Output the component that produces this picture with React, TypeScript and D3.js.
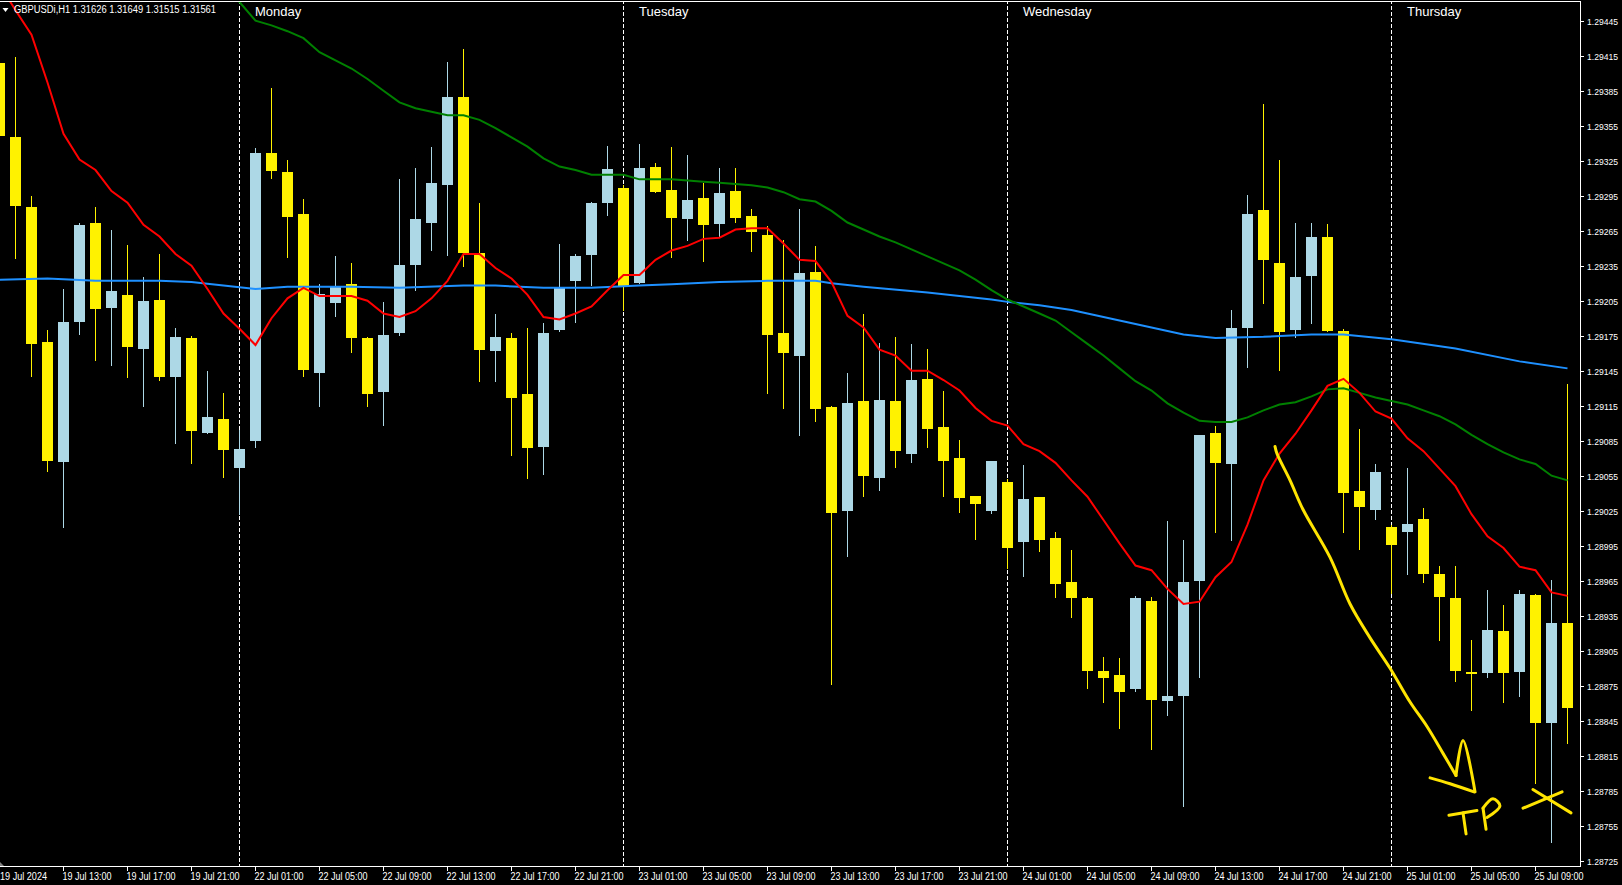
import * as d3 from "d3"

// GBPUSDi H1, 19 Jul 09:00 .. 25 Jul 11:00
const opens = [
  1.29409, 1.29345, 1.29285, 1.2917, 1.29067, 1.29187, 1.29272, 1.29199, 1.2921, 1.29164,
  1.29206, 1.2914, 1.29173, 1.29092, 1.29104, 1.29062, 1.29085, 1.29332, 1.29315, 1.29279,
  1.29143, 1.29203, 1.29219, 1.29173, 1.29127, 1.29177, 1.29236, 1.29272, 1.29304, 1.2938,
  1.29246, 1.29162, 1.29173, 1.29125, 1.2908, 1.2918, 1.29222, 1.29244, 1.29289, 1.29302,
  1.2922, 1.2932, 1.293, 1.29275, 1.29293, 1.29271, 1.29299, 1.29278, 1.29261, 1.29177,
  1.29158, 1.2923, 1.29114, 1.29025, 1.29119, 1.29053, 1.29119, 1.29074, 1.29138, 1.29097,
  1.2907, 1.29038, 1.29025, 1.2905, 1.28998, 1.29037, 1.29002, 1.28964, 1.2895, 1.28888,
  1.28884, 1.28872, 1.28948, 1.28862, 1.28866, 1.28965, 1.29092, 1.29065, 1.29182, 1.29283,
  1.29237, 1.2918, 1.29226, 1.2926, 1.29179, 1.29042, 1.29026, 1.29011, 1.29007, 1.29018,
  1.28971, 1.2895, 1.28887, 1.28886, 1.28922, 1.28887, 1.28953, 1.28843, 1.28929,
]
const highs = [
  1.29412, 1.29414, 1.29295, 1.2918, 1.29215, 1.29272, 1.29285, 1.29266, 1.29253, 1.29225,
  1.29245, 1.29182, 1.29175, 1.29145, 1.29126, 1.29094, 1.29336, 1.29387, 1.29326, 1.29292,
  1.29219, 1.29243, 1.29237, 1.29174, 1.29204, 1.29309, 1.29319, 1.29337, 1.2941, 1.29421,
  1.29289, 1.29194, 1.29177, 1.29182, 1.29186, 1.29254, 1.29245, 1.2929, 1.29338, 1.29304,
  1.29339, 1.29323, 1.29337, 1.2933, 1.29306, 1.29319, 1.29319, 1.29284, 1.29269, 1.29257,
  1.29284, 1.29252, 1.29115, 1.29143, 1.29194, 1.29169, 1.29174, 1.29168, 1.29164, 1.29128,
  1.29086, 1.29038, 1.29068, 1.29052, 1.29064, 1.29037, 1.29007, 1.28991, 1.28951, 1.289,
  1.28899, 1.28952, 1.28951, 1.29016, 1.29, 1.2909, 1.29098, 1.29197, 1.29296, 1.29374,
  1.29326, 1.29272, 1.29272, 1.29271, 1.29181, 1.29095, 1.29065, 1.29013, 1.29062, 1.29027,
  1.28978, 1.28978, 1.28914, 1.28957, 1.28944, 1.28957, 1.28954, 1.28966, 1.29134,
]
const lows = [
  1.29344, 1.29241, 1.2914, 1.29058, 1.2901, 1.29176, 1.29153, 1.29149, 1.29139, 1.29114,
  1.29136, 1.29082, 1.29065, 1.29091, 1.29053, 1.29021, 1.29079, 1.29309, 1.29242, 1.2914,
  1.29114, 1.29191, 1.2916, 1.29114, 1.29098, 1.29175, 1.29213, 1.29248, 1.29243, 1.29234,
  1.29135, 1.29135, 1.29072, 1.29052, 1.29056, 1.29178, 1.29186, 1.29218, 1.29278, 1.29196,
  1.29219, 1.29297, 1.29242, 1.29256, 1.29238, 1.2926, 1.29272, 1.29247, 1.29125, 1.29112,
  1.29089, 1.29101, 1.28876, 1.28985, 1.29037, 1.29042, 1.29062, 1.29066, 1.29079, 1.29037,
  1.29023, 1.29, 1.29022, 1.28975, 1.28968, 1.2899, 1.2895, 1.28933, 1.28872, 1.2886,
  1.28838, 1.2887, 1.2882, 1.28849, 1.28771, 1.28882, 1.29006, 1.28999, 1.29147, 1.29202,
  1.29145, 1.29173, 1.29185, 1.29178, 1.29006, 1.28991, 1.29017, 1.28954, 1.2897, 1.28963,
  1.28913, 1.28878, 1.28853, 1.28882, 1.2886, 1.28865, 1.28791, 1.2874, 1.28825,
]
const closes = [
  1.29346, 1.29286, 1.29168, 1.29068, 1.29187, 1.2927, 1.29198, 1.29213, 1.29165, 1.29205,
  1.2914, 1.29174, 1.29093, 1.29105, 1.29077, 1.29078, 1.29332, 1.29316, 1.29277, 1.29146,
  1.29211, 1.29218, 1.29173, 1.29125, 1.29176, 1.29236, 1.29275, 1.29306, 1.2938, 1.29246,
  1.29163, 1.29174, 1.29122, 1.29079, 1.29177, 1.29217, 1.29243, 1.29289, 1.29318, 1.29218,
  1.29319, 1.29298, 1.29276, 1.29291, 1.2927, 1.29297, 1.29276, 1.29264, 1.29176, 1.2916,
  1.29229, 1.29112, 1.29023, 1.29117, 1.29055, 1.2912, 1.29076, 1.29137, 1.29095, 1.29068,
  1.29036, 1.29031, 1.29068, 1.28993, 1.29035, 1.29, 1.28962, 1.2895, 1.28888, 1.28882,
  1.2887, 1.2895, 1.28863, 1.28866, 1.28964, 1.2909, 1.29066, 1.29182, 1.29279, 1.2924,
  1.29178, 1.29225, 1.2926, 1.29179, 1.2904, 1.29028, 1.29058, 1.28996, 1.29014, 1.28971,
  1.28951, 1.28888, 1.28886, 1.28923, 1.28886, 1.28954, 1.28843, 1.28929, 1.28856,
]

// moving averages
const maFast = [
  1.29476, 1.29454, 1.29433, 1.29392, 1.29348, 1.29326, 1.29317, 1.29299, 1.29289, 1.2927,
  1.2926, 1.29245, 1.29235, 1.29215, 1.29194, 1.29181, 1.29167, 1.2919, 1.29207, 1.29216,
  1.29209, 1.29209, 1.29209, 1.29205, 1.29194, 1.29191, 1.29196, 1.29207, 1.29222, 1.29245,
  1.29245, 1.29233, 1.29224, 1.2921, 1.29191, 1.29189, 1.29194, 1.292, 1.29214, 1.29227,
  1.29227, 1.2924, 1.29248, 1.29252, 1.29258, 1.29259, 1.29266, 1.29267, 1.29267, 1.29254,
  1.2924, 1.29239, 1.29221, 1.29192, 1.29182, 1.29163, 1.29158, 1.29145, 1.29145, 1.29137,
  1.29128, 1.29113, 1.29102, 1.29098, 1.29082, 1.29076, 1.29066, 1.29051, 1.29037, 1.29017,
  1.28997, 1.28978, 1.28974, 1.28958, 1.28945, 1.28947, 1.28968, 1.28981, 1.29013, 1.29051,
  1.29074, 1.29091, 1.29111, 1.29132, 1.29138, 1.29126, 1.2911, 1.29104, 1.29087, 1.29076,
  1.29061, 1.29046, 1.29022, 1.29003, 1.28993, 1.28977, 1.28974, 1.28955, 1.28952,
]
const maMidStart = 14
const maMid = [
  1.29476, 1.29461, 1.29445, 1.29441, 1.29436, 1.2943, 1.29418, 1.29411, 1.29404, 1.29395,
  1.29385, 1.29375, 1.2937, 1.29367, 1.29364, 1.29364, 1.2936, 1.29353, 1.29345, 1.29337,
  1.29327, 1.2932, 1.29317, 1.29313, 1.29313, 1.29313, 1.29309, 1.29309, 1.29309, 1.29308,
  1.29307, 1.29306, 1.29305, 1.29304, 1.29302, 1.29298, 1.29292, 1.2929, 1.29282, 1.29272,
  1.29266, 1.2926, 1.29255, 1.29249, 1.29243, 1.29237, 1.29231, 1.29223, 1.29214, 1.29206,
  1.292, 1.29194, 1.29188, 1.29178, 1.29168, 1.29158, 1.29147, 1.29136, 1.29128, 1.29117,
  1.29109, 1.29102, 1.29101, 1.29101, 1.29105, 1.29111, 1.29116, 1.29118, 1.29123, 1.29129,
  1.2913, 1.29126, 1.29122, 1.29119, 1.29116, 1.29111, 1.29106, 1.29099, 1.2909, 1.29082,
  1.29075, 1.29069, 1.29065, 1.29055, 1.29051,
]
const maSlow: [number, number][] = [
  [0, 1.29223], [3, 1.29224], [6, 1.29222], [10, 1.29222], [12, 1.29221], [14, 1.29218],
  [16, 1.29215], [18, 1.29217], [22, 1.29217], [25, 1.29216], [29, 1.29218], [31, 1.29218],
  [34, 1.29216], [37, 1.29216], [40, 1.29218], [42, 1.29219], [45, 1.29221], [48, 1.29222],
  [51, 1.29222], [52, 1.2922], [54, 1.29217], [58, 1.29212], [62, 1.29206], [63, 1.29204],
  [65, 1.29201], [67, 1.29197], [68, 1.29194], [70, 1.29188], [72, 1.29182], [74, 1.29176],
  [76, 1.29173], [79, 1.29174], [82, 1.29176], [84, 1.29176], [87, 1.29172], [91, 1.29164],
  [95, 1.29153], [98, 1.29147],
]

const priceTicks = [
  "1.29445", "1.29415", "1.29385", "1.29355", "1.29325", "1.29295", "1.29265", "1.29235",
  "1.29205", "1.29175", "1.29145", "1.29115", "1.29085", "1.29055", "1.29025", "1.28995",
  "1.28965", "1.28935", "1.28905", "1.28875", "1.28845", "1.28815", "1.28785", "1.28755",
  "1.28725",
]
const timeTickIndex = [4, 8, 12, 16, 20, 24, 28, 32, 36, 40, 44, 48, 52, 56, 60, 64, 68, 72, 76, 80, 84, 88, 92, 96]
const timeTickText = [
  "19 Jul 13:00", "19 Jul 17:00", "19 Jul 21:00", "22 Jul 01:00", "22 Jul 05:00", "22 Jul 09:00",
  "22 Jul 13:00", "22 Jul 17:00", "22 Jul 21:00", "23 Jul 01:00", "23 Jul 05:00", "23 Jul 09:00",
  "23 Jul 13:00", "23 Jul 17:00", "23 Jul 21:00", "24 Jul 01:00", "24 Jul 05:00", "24 Jul 09:00",
  "24 Jul 13:00", "24 Jul 17:00", "24 Jul 21:00", "25 Jul 01:00", "25 Jul 05:00", "25 Jul 09:00",
]
const dayIndex = [15, 39, 63, 87]
const dayNames = ["Monday", "Tuesday", "Wednesday", "Thursday"]

// hand drawn note, in bar index / price
const noteArrow: [number, number][] = [
  [79.72, 1.2908], [79.84, 1.29074], [80.66, 1.29051], [81.47, 1.29026], [83.16, 1.28985],
  [84.41, 1.28945], [85.66, 1.28916], [86.91, 1.2889], [88.16, 1.28861], [89.22, 1.2884],
  [90.22, 1.28817], [91.03, 1.28798],
]
const noteHead1: [number, number][] = [[91.03, 1.28798], [91.47, 1.28828], [92.22, 1.28784]]
const noteHead2: [number, number][] = [[89.41, 1.28796], [90.66, 1.28791], [92.16, 1.28784]]
const noteT1: [number, number][] = [[90.59, 1.28764], [92.34, 1.28768]]
const noteT2: [number, number][] = [[91.47, 1.28766], [91.66, 1.28748]]
const noteP1: [number, number][] = [[92.72, 1.2877], [92.91, 1.28752]]
const noteP2: [number, number][] = [[92.72, 1.2877], [93.34, 1.28778], [93.78, 1.28772], [92.97, 1.28762]]
const noteX1: [number, number][] = [[95.22, 1.2877], [97.66, 1.28784]]
const noteX2: [number, number][] = [[95.84, 1.28786], [98.22, 1.28766]]

const BULL = "#add8e6"
const BEAR = "#fff200"
const FONT = "'Liberation Sans', Arial, sans-serif"

export default function App() {
  const plotRight = 1580
  const plotBottom = 866

  const x = d3.scaleLinear().domain([0, 98]).range([-0.5, 1567.5])
  const y = d3.scaleLinear().domain([1.28725, 1.29445]).range([860.7, 20.7])

  const line = d3
    .line<[number, number]>()
    .x((d) => x(d[0]))
    .y((d) => y(d[1]))
  const hand = d3
    .line<[number, number]>()
    .x((d) => x(d[0]))
    .y((d) => y(d[1]))
    .curve(d3.curveCatmullRom)

  const fastPts = maFast.map((v, i) => [i, v] as [number, number])
  const midPts = maMid.map((v, i) => [i + maMidStart, v] as [number, number])

  const notes = [noteArrow, noteHead1, noteHead2, noteT1, noteT2, noteP1, noteP2, noteX1, noteX2]

  return (
    <svg
      width={1622}
      height={885}
      style={{ position: "fixed", left: 0, top: 0, background: "#000", display: "block" }}
    >
      <defs>
        <clipPath id="plot">
          <rect x={0} y={1} width={plotRight} height={plotBottom - 1} />
        </clipPath>
      </defs>
      <rect x={0} y={0} width={1622} height={885} fill="#000" />

      <g clipPath="url(#plot)">
        {/* period separators */}
        {dayIndex.map((k) => (
          <line
            key={k}
            x1={Math.floor(x(k)) + 0.5}
            x2={Math.floor(x(k)) + 0.5}
            y1={0}
            y2={plotBottom}
            stroke="#fff"
            strokeWidth={1}
            strokeDasharray="4 2"
          />
        ))}

        {/* candles */}
        {opens.map((o, i) => {
          const c = closes[i]
          const col = c >= o ? BULL : BEAR
          const xc = Math.floor(x(i))
          const top = Math.round(y(Math.max(o, c)))
          const bot = Math.round(y(Math.min(o, c)))
          return (
            <g key={i}>
              <rect
                x={xc}
                y={Math.round(y(highs[i]))}
                width={1}
                height={Math.max(1, Math.round(y(lows[i])) - Math.round(y(highs[i])))}
                fill={col}
              />
              <rect x={xc - 5} y={top} width={11} height={Math.max(2, bot - top)} fill={col} />
            </g>
          )
        })}

        {/* moving averages */}
        <path d={line(maSlow) ?? ""} fill="none" stroke="#1e90ff" strokeWidth={2} />
        <path d={line(midPts) ?? ""} fill="none" stroke="#008000" strokeWidth={2} />
        <path d={line(fastPts) ?? ""} fill="none" stroke="#ff0000" strokeWidth={2} />

        {/* hand drawn note */}
        {notes.map((n, i) => (
          <path
            key={i}
            d={hand(n) ?? ""}
            fill="none"
            stroke="#ffe400"
            strokeWidth={3}
            strokeLinecap="round"
            strokeLinejoin="round"
          />
        ))}
      </g>

      {/* frame */}
      <line x1={0} x2={plotRight + 1} y1={1.5} y2={1.5} stroke="#fff" />
      <line x1={plotRight + 0.5} x2={plotRight + 0.5} y1={1} y2={plotBottom + 1} stroke="#fff" />
      <line x1={0} x2={plotRight + 1} y1={plotBottom + 0.5} y2={plotBottom + 0.5} stroke="#fff" />

      {/* header */}
      <path d="M2.5,8 L8.5,8 L5.5,12 Z" fill="#fff" />
      <text x={14} y={13} fill="#fff" fontFamily={FONT} fontSize={10} textLength={202} lengthAdjust="spacingAndGlyphs">
        GBPUSDi,H1  1.31626 1.31649 1.31515 1.31561
      </text>

      {/* day names */}
      {dayIndex.map((k, i) => (
        <text key={k} x={x(k) + 15.5} y={16} fill="#fff" fontFamily={FONT} fontSize={13}>
          {dayNames[i]}
        </text>
      ))}

      {/* price axis */}
      {priceTicks.map((t) => {
        const py = Math.round(y(+t)) + 0.5
        return (
          <g key={t}>
            <line x1={plotRight + 1} x2={plotRight + 4} y1={py} y2={py} stroke="#fff" />
            <text
              x={1587}
              y={py + 3.5}
              fill="#fff"
              fontFamily={FONT}
              fontSize={9}
              textLength={31}
              lengthAdjust="spacingAndGlyphs"
            >
              {t}
            </text>
          </g>
        )
      })}

      {/* time axis */}
      <path d="M0,862 L4,866 L0,866 Z" fill="#808080" />
      <text x={0} y={880} fill="#fff" fontFamily={FONT} fontSize={10} textLength={47} lengthAdjust="spacingAndGlyphs">
        19 Jul 2024
      </text>
      {timeTickIndex.map((k, i) => {
        const tx = Math.floor(x(k)) + 0.5
        return (
          <g key={k}>
            <line x1={tx} x2={tx} y1={plotBottom + 1} y2={plotBottom + 5} stroke="#fff" />
            <text
              x={tx - 1}
              y={880}
              fill="#fff"
              fontFamily={FONT}
              fontSize={10}
              textLength={49}
              lengthAdjust="spacingAndGlyphs"
            >
              {timeTickText[i]}
            </text>
          </g>
        )
      })}
    </svg>
  )
}
